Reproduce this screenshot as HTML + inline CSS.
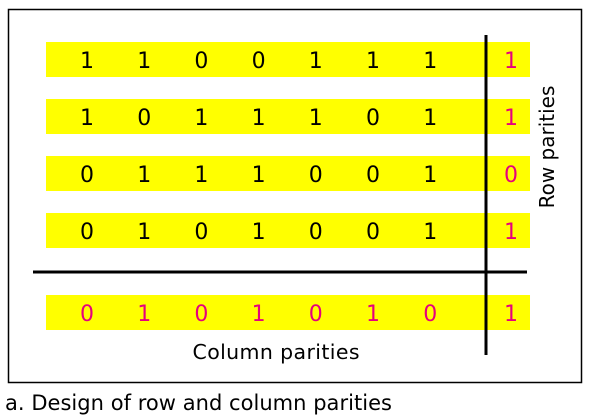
<!DOCTYPE html>
<html><head><meta charset="utf-8"><style>
body{margin:0;background:#fff;width:592px;height:415px;overflow:hidden;font-family:"DejaVu Sans","Liberation Sans",sans-serif}
svg text{font-family:"DejaVu Sans","Liberation Sans",sans-serif}
</style></head><body>
<svg width="592" height="415">
<rect x="8.5" y="9.5" width="573" height="373" fill="none" stroke="#000" stroke-width="1.5"/>
<g id="rows"></g>
<line x1="486" y1="35" x2="486" y2="355" stroke="#000" stroke-width="3"/>
<line x1="33" y1="272" x2="527" y2="272" stroke="#000" stroke-width="3"/>
<text x="547" y="147" font-size="20" text-anchor="middle" transform="rotate(-90 547 147)" dominant-baseline="central">Row parities</text>
<text x="276" y="359" font-size="20.5" text-anchor="middle" textLength="167">Column parities</text>
<text x="5" y="410" font-size="21" textLength="387">a. Design of row and column parities</text>
</svg>
<script>
const dataRows=[[1,1,0,0,1,1,1],[1,0,1,1,1,0,1],[0,1,1,1,0,0,1],[0,1,0,1,0,0,1]];
const rowParities=[1,1,0,1];
const columnParities=[0,1,0,1,0,1,0];
const cornerParity=1;
const g=document.getElementById('rows');
const NS='http://www.w3.org/2000/svg';
const colX=i=>87+i*57.2;
const parX=511;
function addRow(y,vals,par,color,name){
 const r=document.createElementNS(NS,'rect');
 r.setAttribute('x',46);r.setAttribute('y',y);r.setAttribute('width',484);r.setAttribute('height',35);r.setAttribute('fill','#ffff00');
 
 
 g.appendChild(r);
 vals.concat([par]).forEach((v,i)=>{
  const t=document.createElementNS(NS,'text');
  t.setAttribute('x',i<vals.length?colX(i):parX);t.setAttribute('y',y+26);
  t.setAttribute('font-size','22');t.setAttribute('text-anchor','middle');
  t.setAttribute('fill',(i<vals.length?color:'#e6007e'));
  t.textContent=v;
  
  
  g.appendChild(t);
 });
}
dataRows.forEach((row,k)=>addRow(42+k*57,row,rowParities[k],'#000','data-row-'+(k+1)));
addRow(295,columnParities,cornerParity,'#e6007e','column-parity-row');
</script>
</body></html>
